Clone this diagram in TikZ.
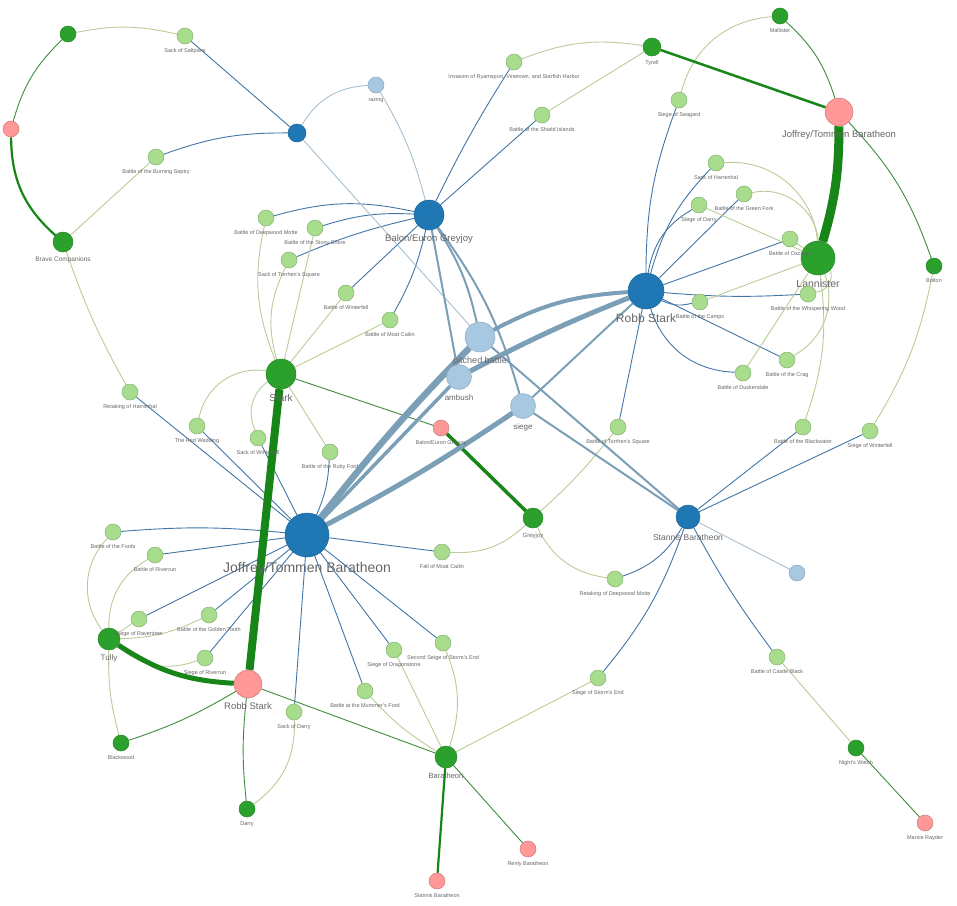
\documentclass[tikz,border=0pt]{standalone}
\usepackage{fontspec}
\setmainfont{Liberation Sans}
\usetikzlibrary{backgrounds}
\definecolor{nblue}{HTML}{1F77B4}
\definecolor{lblue}{HTML}{A6C8E0}
\definecolor{ngreen}{HTML}{2CA02C}
\definecolor{lgreen}{HTML}{A8DD8E}
\definecolor{npink}{HTML}{FF9896}
\definecolor{lkblue}{HTML}{4275A8}
\definecolor{lkpale}{HTML}{A8BFD0}
\definecolor{lksteel}{HTML}{7B9FB6}
\definecolor{lkolive}{HTML}{BCCB98}
\definecolor{lkgreen}{HTML}{3C8C3C}
\definecolor{lkthick}{HTML}{178517}

\begin{document}
\begin{tikzpicture}[x=1pt,y=-1pt,
  nd/.style={circle,inner sep=0pt,line width=0.5pt},
  nb/.style={nd,fill=nblue,draw=nblue!85!black},
  lb/.style={nd,fill=lblue,draw=lblue!85!black},
  ng/.style={nd,fill=ngreen,draw=ngreen!85!black},
  lg/.style={nd,fill=lgreen,draw=lgreen!80!black},
  pk/.style={nd,fill=npink,draw=npink!80!black},
  lab/.style={text=black!60,inner sep=0.5pt},
  label distance=4pt,
  lk/.style={line width=0.9pt},
  blk/.style={lk,draw=lkblue},
  plk/.style={lk,draw=lkpale},
  slk/.style={draw=lksteel},
  olk/.style={lk,draw=lkolive},
  glk/.style={lk,draw=lkgreen},
  tgk/.style={draw=lkthick}]
\useasboundingbox (0,0) rectangle (957,905);

% houses, commanders and kinds of battle
\foreach \n/\x/\y/\r/\s/\f/\t in {
  jtb/307/535/22/nb/14/{Joffrey/Tommen Baratheon},
  rsb/646/291/18/nb/12/{Robb Stark},
  beg/429/215/15/nb/9.5/{Balon/Euron Greyjoy},
  stb/688/517/12/nb/8.5/{Stannis Baratheon},
  nbx/297/133/9/nb/5/{},
  pit/480/337/15/lb/9/{pitched battle},
  amb/459/377/12.5/lb/8/{ambush},
  sie/523/406/12.5/lb/8/{siege},
  raz/376/85/8/lb/5.5/{razing},
  lbx/797/573/8/lb/5/{},
  lan/818/258/17/ng/10.5/{Lannister},
  sta/281/374/15/ng/10/{Stark},
  tul/109/639/11/ng/8/{Tully},
  bar/446/757/11/ng/7.5/{Baratheon},
  gre/533/518/10/ng/6/{Greyjoy},
  bra/63/242/10/ng/6.5/{Brave Companions},
  tyr/652/47/9/ng/5.5/{Tyrell},
  mal/780/16/8/ng/5.5/{Mallister},
  bol/934/266/8/ng/5.5/{Bolton},
  blw/121/743/8/ng/5.5/{Blackwood},
  dar/247/809/8/ng/5.5/{Darry},
  nwa/856/748/8/ng/5.5/{Night's Watch},
  ngx/68/34/8/ng/5/{},
  pjt/839/112/14/pk/9.5/{Joffrey/Tommen Baratheon},
  prs/248/684/14/pk/9.5/{Robb Stark},
  pbe/441/428/8/pk/5.5/{Balon/Euron Greyjoy},
  psb/437/881/8/pk/5.5/{Stannis Baratheon},
  pre/528/849/8/pk/5.5/{Renly Baratheon},
  pmr/925/823/8/pk/5.5/{Mance Rayder},
  pkx/11/129/8/pk/5/{}}{
  \node[\s,minimum size=2*\r,label={[lab,font=\fontsize{\f}{\f}\selectfont]below:\t}] (\n) at (\x,\y) {};
}

% battles
\foreach \n/\x/\y/\t in {
  sal/185/36/{Sack of Saltpans},
  bsep/156/157/{Battle of the Burning Septry},
  bdm/266/218/{Battle of Deepwood Motte},
  bss/315/228/{Battle of the Stony Shore},
  sts/289/260/{Sack of Torrhen's Square},
  inv/514/62/{Invasion of Ryamsport, Vinetown, and Starfish Harbor},
  bsi/542/115/{Battle of the Shield Islands},
  ssg/679/100/{Siege of Seagard},
  sha/716/163/{Sack of Harrenhal},
  bgf/744/194/{Battle of the Green Fork},
  sda/699/205/{Siege of Darry},
  box/790/239/{Battle of Oxcross},
  bca/700/302/{Battle of the Camps},
  bww/808/294/{Battle of the Whispering Wood},
  bcr/787/360/{Battle of the Crag},
  bdu/743/373/{Battle of Duskendale},
  bbw/803/427/{Battle of the Blackwater},
  swi/870/431/{Siege of Winterfell},
  bts/618/427/{Battle of Torrhen's Square},
  bwi/346/293/{Battle of Winterfell},
  bmc/390/320/{Battle of Moat Cailin},
  bru/330/452/{Battle of the Ruby Ford},
  fmc/442/552/{Fall of Moat Cailin},
  rdm/615/579/{Retaking of Deepwood Motte},
  rha/130/392/{Retaking of Harrenhal},
  trw/197/426/{The Red Wedding},
  swf/258/438/{Sack of Winterfell},
  bfo/113/532/{Battle of the Fords},
  bri/155/555/{Battle of Riverrun},
  sra/139/619/{Siege of Raventree},
  bgt/209/615/{Battle of the Golden Tooth},
  sri/205/658/{Siege of Riverrun},
  sdy/294/712/{Sack of Darry},
  ssd/443/643/{Second Seige of Storm's End},
  sdr/394/650/{Siege of Dragonstone},
  bmf/365/691/{Battle at the Mummer's Ford},
  sse/598/678/{Siege of Storm's End},
  bcb/777/657/{Battle of Castle Black}}{
  \node[lg,minimum size=16,label={[lab,font=\fontsize{5.5}{5.5}\selectfont]below:\t}] (\n) at (\x,\y) {};
}

\begin{scope}[on background layer]
% attacker links
\foreach \a/\b/\c in {beg/inv/3,beg/bsi/0,bdm/beg/14,bss/beg/10,sts/beg/5,bwi/beg/0,bmc/beg/-8,
  sal/nbx/0,bsep/nbx/10,
  rsb/ssg/10,rsb/sha/14,rsb/sda/25,rsb/bgf/0,rsb/box/0,rsb/bca/-20,rsb/bww/-4,rsb/bcr/0,rsb/bdu/-35,rsb/bts/0,
  swi/stb/0,bbw/stb/0,stb/rdm/20,stb/sse/10,stb/bcb/-4,
  rha/jtb/0,trw/jtb/0,swf/jtb/0,bru/jtb/10,bfo/jtb/5,bri/jtb/0,sra/jtb/0,bgt/jtb/0,sri/jtb/0,
  sdy/jtb/0,bmf/jtb/0,sdr/jtb/0,ssd/jtb/0,fmc/jtb/0}
  \draw[blk] (\a) to[bend left=\c] (\b);
\foreach \a/\b/\c in {nbx/raz/28,raz/beg/8,nbx/pit/0,stb/lbx/0}
  \draw[plk] (\a) to[bend left=\c] (\b);
% defender links
\foreach \a/\b/\c in {ngx/sal/12,bsep/bra/0,bra/rha/-5,inv/tyr/15,bsi/tyr/0,mal/ssg/-35,
  sha/lan/45,bgf/lan/50,sda/lan/0,box/lan/0,bca/lan/0,bww/lan/-60,bcr/lan/-40,bdu/lan/0,bbw/lan/-13,
  bol/swi/10,bts/gre/5,gre/rdm/-28,fmc/gre/-23,sse/bar/0,bar/ssd/-20,bar/sdr/0,bar/bmf/8,sdy/dar/28,
  tul/bfo/40,tul/bri/30,tul/sra/0,tul/bgt/-12,tul/sri/-30,tul/blw/-8,
  bdm/sta/-17,sts/sta/-21,bss/sta/0,bwi/sta/0,bmc/sta/0,sta/trw/-44,sta/swf/-40,sta/bru/0,bcb/nwa/0}
  \draw[olk] (\a) to[bend left=\c] (\b);
% commander links
\foreach \a/\b/\c in {ngx/pkx/-15,mal/pjt/15,pjt/bol/12,pbe/sta/0,prs/bar/0,bar/pre/0,prs/dar/-6,prs/blw/6,nwa/pmr/0}
  \draw[glk] (\a) to[bend left=\c] (\b);
\foreach \a/\b/\c/\w in {pkx/bra/-24/2.2,tyr/pjt/0/2.5,lan/pjt/-8/9,gre/pbe/0/3.5,bar/psb/0/2.2,sta/prs/0/8,prs/tul/15/5}
  \draw[tgk,line width=\w pt] (\a) to[bend left=\c] (\b);
% kinds of battle
\foreach \a/\b/\c/\w in {jtb/pit/3/6.5,jtb/amb/0/3.5,jtb/sie/-3/5,rsb/pit/-12/4,rsb/amb/-3/5,rsb/sie/0/2,
  beg/pit/10/2,beg/amb/0/2,beg/sie/10/2,pit/stb/0/2,sie/stb/0/2}
  \draw[slk,line width=\w pt] (\a) to[bend left=\c] (\b);
\end{scope}
\end{tikzpicture}
\end{document}
